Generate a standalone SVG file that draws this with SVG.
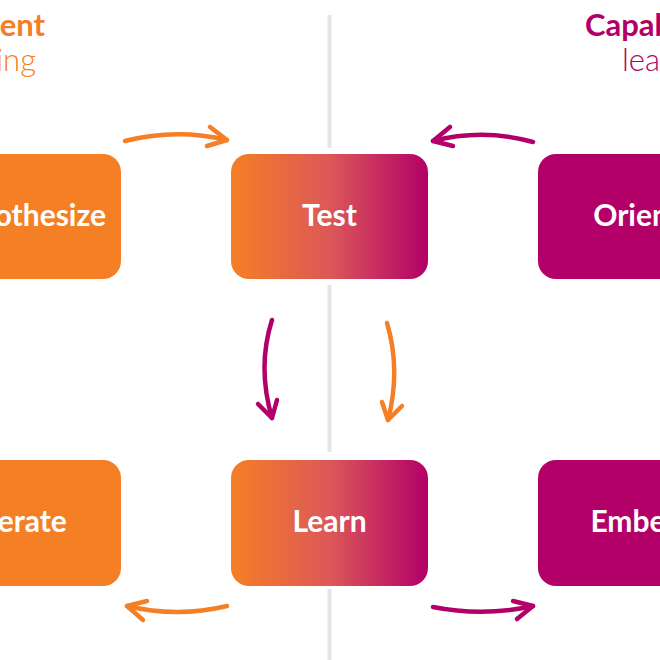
<svg xmlns="http://www.w3.org/2000/svg" width="660" height="660" viewBox="0 0 660 660">
<defs>
<linearGradient id="grad" x1="0" y1="0" x2="1" y2="0">
<stop offset="0" stop-color="#F47F24"/>
<stop offset="0.5" stop-color="#DC5858"/>
<stop offset="1" stop-color="#B20068"/>
</linearGradient>
<style>
.lbl{font-family:Lato,"Open Sans","Liberation Sans",sans-serif;font-weight:bold;font-size:30px;fill:#fff;text-anchor:middle}
.org{fill:#F47F24}
.mag{fill:#B20068}
.grd{fill:url(#grad)}
.div{stroke:#E4E5E7;stroke-width:4;fill:none}
.a{fill:none;stroke-width:4.5;stroke-linecap:round;stroke-linejoin:round}
.ao{stroke:#F47F24}
.am{stroke:#B20068}
.t1{font-family:Lato,"Open Sans","Liberation Sans",sans-serif;font-size:31px;font-weight:bold}
.t2{font-family:Lato,"Open Sans","Liberation Sans",sans-serif;font-size:31px;font-weight:300}
</style>
</defs>
<rect width="660" height="660" fill="#fff"/>
<g id="titles">
<text class="t1" x="45" y="36" text-anchor="end" fill="#F47F24">Experiment</text>
<text class="t2" x="36" y="71" text-anchor="end" fill="#F47F24">learning</text>
<text class="t1" x="585" y="36" fill="#B20068">Capability</text>
<text class="t2" x="622" y="71" fill="#B20068">learning</text>
</g>
<g id="divider">
<line class="div" x1="329.5" y1="15" x2="329.5" y2="148"/>
<line class="div" x1="329.5" y1="285" x2="329.5" y2="452"/>
<line class="div" x1="329.5" y1="589" x2="329.5" y2="660"/>
</g>
<g id="hypothesize">
<rect class="org" x="-76" y="154" width="197" height="125" rx="18"/>
<text class="lbl" x="22.5" y="226">Hypothesize</text>
</g>
<g id="test">
<rect class="grd" x="231" y="154" width="197" height="125" rx="18"/>
<text class="lbl" x="329.5" y="226">Test</text>
</g>
<g id="orient">
<rect class="mag" x="538" y="154" width="197" height="125" rx="18"/>
<text class="lbl" x="636.5" y="226">Orient</text>
</g>
<g id="iterate">
<rect class="org" x="-76" y="460" width="197" height="126" rx="18"/>
<text class="lbl" x="22.5" y="532">Iterate</text>
</g>
<g id="learn">
<rect class="grd" x="231" y="460" width="197" height="126" rx="18"/>
<text class="lbl" x="329.5" y="532">Learn</text>
</g>
<g id="embed">
<rect class="mag" x="538" y="460" width="197" height="126" rx="18"/>
<text class="lbl" x="636.5" y="532">Embed</text>
</g>
<g id="connectors">
<path class="a ao" d="M125,141 Q176,128 227,140"/>
<path class="a ao" d="M210,127 L227,140 L207,146"/>
<path class="a am" d="M533,142 Q483,128 433,141"/>
<path class="a am" d="M450,127 L433,141 L453,146"/>
<path class="a am" d="M272,320 Q257,367 272,418"/>
<path class="a am" d="M258,404 L272,418 L277,400"/>
<path class="a ao" d="M387,323 Q401,370 388,420"/>
<path class="a ao" d="M382,402 L388,420 L402,406"/>
<path class="a ao" d="M227,606 Q177,618 127,606"/>
<path class="a ao" d="M147,601 L127,606 L143,620"/>
<path class="a am" d="M433,607 Q483,617 533,606"/>
<path class="a am" d="M513,601 L533,606 L517,619"/>
</g>
</svg>
